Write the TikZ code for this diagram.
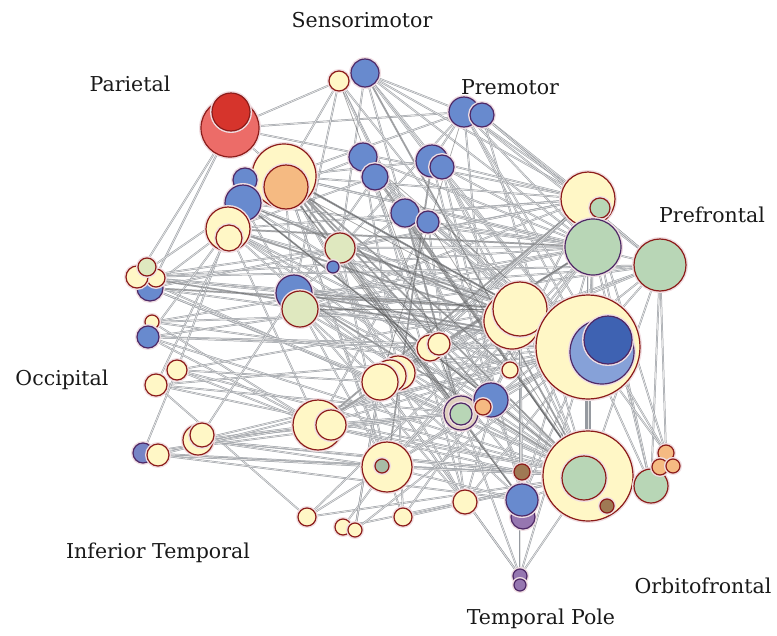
\documentclass[tikz,border=0pt]{standalone}
\usepackage{fontspec}
\setmainfont{DejaVu Serif}
\usetikzlibrary{backgrounds}

\definecolor{areayel}{RGB}{255,247,198}
\definecolor{arearim}{RGB}{140,28,26}
\definecolor{areablu}{RGB}{104,138,206}
\definecolor{areabludk}{RGB}{62,98,178}
\definecolor{bluerim}{RGB}{78,40,102}
\definecolor{areagrn}{RGB}{184,214,182}
\definecolor{areaorg}{RGB}{245,186,130}
\definecolor{areared}{RGB}{236,108,104}
\definecolor{arearddk}{RGB}{214,52,44}
\definecolor{areapur}{RGB}{150,118,176}
\definecolor{areahalo}{RGB}{240,222,226}
\definecolor{linkgray}{RGB}{150,154,160}

\tikzset{
  area/.style={circle, inner sep=0pt, line width=1.2pt,
    preaction={draw=areahalo, line width=4pt}},
  rad/.style={minimum size=2*#1pt},
  yel/.style={area, fill=areayel, draw=arearim},
  yg/.style={area, fill=areayel!55!areagrn, draw=arearim},
  org/.style={area, fill=areaorg, draw=arearim},
  grn/.style={area, fill=areagrn, draw=arearim},
  blu/.style={area, fill=areablu, draw=bluerim},
  bludk/.style={area, fill=areabludk, draw=bluerim},
  redlt/.style={area, fill=areared, draw=arearim},
  reddk/.style={area, fill=arearddk, draw=arearim},
  pur/.style={area, fill=areapur, draw=bluerim},
  dkr/.style={area, fill=black!35!areaorg, draw=arearim},
  link/.style={draw=linkgray, double=black!10, double distance=0.8pt, line width=0.5pt},
  darklink/.style={draw=black!70, line width=0.7pt, opacity=0.5},
  region/.style={font=\fontsize{20.5}{22}\selectfont, text=black!90}
}

\begin{document}
\begin{tikzpicture}[x=1pt, y=-1pt]
  \useasboundingbox (0,0) rectangle (777,635);

  % sensorimotor
  \node[yel, rad=10] (sm1) at (339,81) {};
  \node[blu, rad=14] (sm2) at (365,73) {};

  % parietal
  \node[redlt, rad=29] (pa1) at (230,128) {};
  \node[reddk, rad=19] (pa2) at (231,112) {};
  \node[yel, rad=32] (pa3) at (284,176) {};
  \node[org, rad=22] (pa4) at (286,187) {};
  \node[blu, rad=12] (pa5) at (245,180) {};
  \node[blu, rad=18] (pa6) at (243,203) {};
  \node[yel, rad=22] (pa7) at (228,229) {};
  \node[yel, rad=13] (pa8) at (229,238) {};

  % premotor
  \node[blu, rad=15] (pm1) at (464,112) {};
  \node[blu, rad=12] (pm2) at (482,115) {};
  \node[blu, rad=14] (pm3) at (363,157) {};
  \node[blu, rad=13] (pm4) at (375,177) {};
  \node[blu, rad=16] (pm5) at (432,161) {};
  \node[blu, rad=12] (pm6) at (442,167) {};
  \node[blu, rad=14] (pm7) at (405,213) {};
  \node[blu, rad=11] (pm8) at (428,222) {};

  % central
  \node[yg, rad=15] (ce1) at (340,248) {};
  \node[blu, rad=6] (ce2) at (333,267) {};
  \node[blu, rad=18] (ce3) at (294,293) {};
  \node[yg, rad=18] (ce4) at (300,309) {};
  \node[yel, rad=17] (ce5) at (398,373) {};
  \node[yel, rad=16] (ce6) at (390,376) {};
  \node[yel, rad=18] (ce7) at (380,382) {};
  \node[yel, rad=13] (ce8) at (430,348) {};
  \node[yel, rad=11] (ce9) at (439,344) {};
  \node[yel, rad=8] (ce10) at (510,370) {};

  % occipital
  \node[blu, rad=13] (oc3) at (150,288) {};
  \node[yel, rad=9] (oc9) at (156,278) {};
  \node[yel, rad=11] (oc1) at (137,277) {};
  \node[yg, rad=9] (oc2) at (147,267) {};
  \node[yel, rad=7] (oc4) at (152,322) {};
  \node[blu, rad=11] (oc5) at (148,337) {};
  \node[yel, rad=10] (oc6) at (177,370) {};
  \node[yel, rad=11] (oc7) at (156,385) {};

  % prefrontal
  \node[yel, rad=27] (pf1) at (588,199) {};
  \node[grn, rad=10] (pf2) at (600,208) {};
  \node[grn, rad=28, draw=bluerim] (pf3) at (593,247) {};
  \node[grn, rad=26] (pf4) at (660,265) {};
  \node[yel, rad=28] (pf6) at (512,321) {};
  \node[yel, rad=27] (pf5) at (520,309) {};
  \node[yel, rad=52] (pf7) at (588,347) {};
  \node[blu, rad=32, fill=areablu!80!white] (pf8) at (602,352) {};
  \node[bludk, rad=24] (pf9) at (608,340) {};

  % lower centre
  \node[yel, rad=17, draw=bluerim, fill=areayel!70!areapur] (lo1) at (461,413) {};
  \node[blu, rad=17] (lo2) at (491,400) {};
  \node[grn, rad=11, draw=bluerim] (lo8) at (461,414) {};
  \node[org, rad=8] (lo3) at (483,407) {};
  \node[yel, rad=25] (lo4) at (318,425) {};
  \node[yel, rad=15] (lo5) at (331,425) {};
  \node[yel, rad=25] (lo6) at (387,467) {};
  \node[grn, rad=7, fill=areagrn!70!gray] (lo7) at (382,466) {};

  % inferior temporal
  \node[yel, rad=15] (it1) at (198,440) {};
  \node[yel, rad=12] (it2) at (202,435) {};
  \node[blu, rad=10, fill=areablu!70!areapur] (it3) at (143,453) {};
  \node[yel, rad=11] (it4) at (158,455) {};
  \node[yel, rad=9] (it5) at (307,517) {};
  \node[yel, rad=8] (it6) at (343,527) {};
  \node[yel, rad=7] (it7) at (355,530) {};
  \node[yel, rad=9] (it8) at (403,517) {};
  \node[yel, rad=12] (it9) at (465,502) {};

  % temporal pole
  \node[dkr, rad=8] (tp1) at (522,472) {};
  \node[pur, rad=12] (tp3) at (523,517) {};
  \node[blu, rad=16] (tp2) at (522,500) {};
  \node[pur, rad=7] (tp4) at (520,576) {};
  \node[pur, rad=6] (tp5) at (520,585) {};

  % orbitofrontal
  \node[yel, rad=45] (of1) at (588,476) {};
  \node[grn, rad=22] (of2) at (584,478) {};
  \node[dkr, rad=7] (of3) at (607,506) {};
  \node[grn, rad=17] (of4) at (651,486) {};
  \node[org, rad=8] (of5) at (666,453) {};
  \node[org, rad=8] (of6) at (660,467) {};
  \node[org, rad=7] (of7) at (673,466) {};

  % region names
  \node[region] (lsm) at (362,20) {Sensorimotor};
  \node[region] (lpa) at (130,84) {Parietal};
  \node[region] (lpm) at (510,87) {Premotor};
  \node[region] (lpf) at (712,215) {Prefrontal};
  \node[region] (loc) at (62,380) {Occipital};
  \node[region] (lit) at (158,553) {Inferior Temporal};
  \node[region] (lof) at (703,586) {Orbitofrontal};
  \node[region] (ltp) at (541,619) {Temporal Pole};

  % connections
  \begin{scope}[on background layer]
    \foreach \a/\b in {pa1/pm1, pa1/oc1, pa1/pa3, pa1/pf1, pa1/oc3, pa1/sm1,
      sm1/pa3, sm1/ce3, sm1/pm7, sm1/lo2, sm2/pf1, sm2/pf3, sm2/pf7, sm2/pm1,
      sm2/lo1, sm2/of1, sm2/pm5, sm1/pf5, sm2/ce1,
      pm1/pa3, pm1/pf1, pm1/pf3, pm1/pf7, pm1/ce1, pm1/pm5, pm1/lo2, pm1/pf4,
      pm2/pf1, pm2/pf4, pm2/of1, pm3/pf5, pm3/lo1, pm3/of1, pm3/ce5, pm3/pf3,
      pm4/pf7, pm4/ce3, pm4/it9, pm5/lo6, pm5/lo2, pm5/pf7, pm5/pa3, pm6/pf5,
      pm6/of1, pm6/tp2, pm7/lo1, pm7/tp1, pm7/ce3, pm7/of1, pm7/pf7, pm8/pf3,
      pm8/lo4, pm8/it9, pm3/pa6, pm4/pa7, pm5/pf1, pm6/pf3, pm7/pf1, pm8/pf7,
      pa3/pf7, pa3/of1, pa3/pf5, pa3/pf3, pa3/pf1, pa3/lo1, pa3/lo2, pa3/tp2,
      pa3/ce5, pa3/lo6, pa3/it9, pa3/ce10, pa3/pf4, pa3/ce3, pa3/oc1, pa3/it8,
      pa6/pf7, pa6/pf3, pa6/of1, pa6/lo6, pa6/pf5, pa7/pf3, pa7/pf5, pa7/ce8,
      pa7/of1, pa7/lo4, pa7/tp2, pa7/oc3, pa7/pf7, pa7/pf1, pa6/ce10,
      ce1/pf3, ce1/pf5, ce1/lo6, ce1/of1, ce1/tp1, ce3/pf5, ce3/pf7, ce3/of1,
      ce3/pf4, ce3/lo1, ce4/pf7, ce4/of1, ce4/it9, ce4/ce7, ce7/pf7, ce7/of1,
      ce7/pf3, ce7/tp4, ce7/it7, ce5/pf5, ce5/pf1, ce8/pf7, ce8/pf4, ce8/of1,
      ce10/pf7, ce10/pa7, ce4/pf1, ce4/pf3, ce1/pf1, ce3/lo2,
      oc1/pf7, oc1/pf5, oc1/ce3, oc1/pf3, oc1/pf4, oc1/of1, oc3/pf5, oc3/ce7,
      oc3/pf7, oc3/lo1, oc4/pf5, oc4/lo4, oc4/pf3, oc5/pf7, oc5/lo4, oc5/ce8,
      oc5/of1, oc5/pa7, oc6/lo4, oc6/pf5, oc6/ce7, oc6/pa7, oc7/of1, oc7/lo1,
      oc7/it5, oc7/pf7, oc7/pa6, oc1/ce1, oc3/pf1, oc5/pf4, oc6/of1, oc4/ce10,
      it1/pf7, it1/lo1, it1/of2, it1/lo6, it1/ce3, it3/of1, it3/lo4, it3/oc6,
      it4/of1, it4/lo6, it4/tp2, it5/of1, it5/lo6, it5/pf5, it6/lo6, it6/of1,
      it7/ce7, it7/pf7, it8/ce5, it8/of1, it8/pf3, it9/pf7, it9/of1, it9/pf5,
      it1/lo4, it3/lo1, it4/pf7, it1/of1,
      tp4/pf7, tp4/lo1, tp4/ce7, tp4/of1, tp4/pf5, tp2/pf7, tp2/of1, tp2/pf3,
      tp1/lo4, tp1/of1, tp1/pf5, tp2/lo6,
      lo1/pf7, lo1/of1, lo1/pf3, lo2/pf7, lo2/pf1, lo2/of1, lo4/pf5, lo4/pf7,
      lo4/of1, lo4/pf3, lo6/pf3, lo6/pf7, lo6/of1, lo6/pf5, lo4/lo1, lo6/lo2,
      of4/pf7, of4/pf4, of4/pf3, of4/pf1, of5/pf4, of5/pf1, of5/pf7, of5/pm1,
      pf4/pf7, pf4/of1, pf4/pm2, pf3/pf7, pf1/pf7, pf5/pf7, pf5/of1, pf3/of1,
      pf1/of1, pf1/lo4, pf1/ce5, pf1/ce7, pf4/lo2, pf4/ce5}
      \draw[link] (\a) -- (\b);
    \draw[link, line width=3pt] (pf7) -- (of1);
    \foreach \a/\b in {pa3/pf7, pa3/of1, pa3/lo2, pa3/tp2, pa6/pf7, pa7/pf3,
      ce3/pf5, pm7/lo1, pm3/of1, sm2/of1, pf3/ce7, pf1/lo4, pm5/lo6, ce3/pf7,
      oc1/pf7, pa3/pf5, pa4/lo1, ce4/pf5, pa6/of1, ce1/lo1, pf3/lo4, pm1/ce7,
      pa3/ce10, pa6/lo2, pm4/of1, pm7/of1, ce1/pf5, sm1/lo1, pa7/pf7,
      oc3/pf5, pm8/of1, ce3/of1, pa4/pf7, pa4/tp2, pm3/pf7}
      \draw[darklink] (\a) -- (\b);
  \end{scope}
\end{tikzpicture}
\end{document}
